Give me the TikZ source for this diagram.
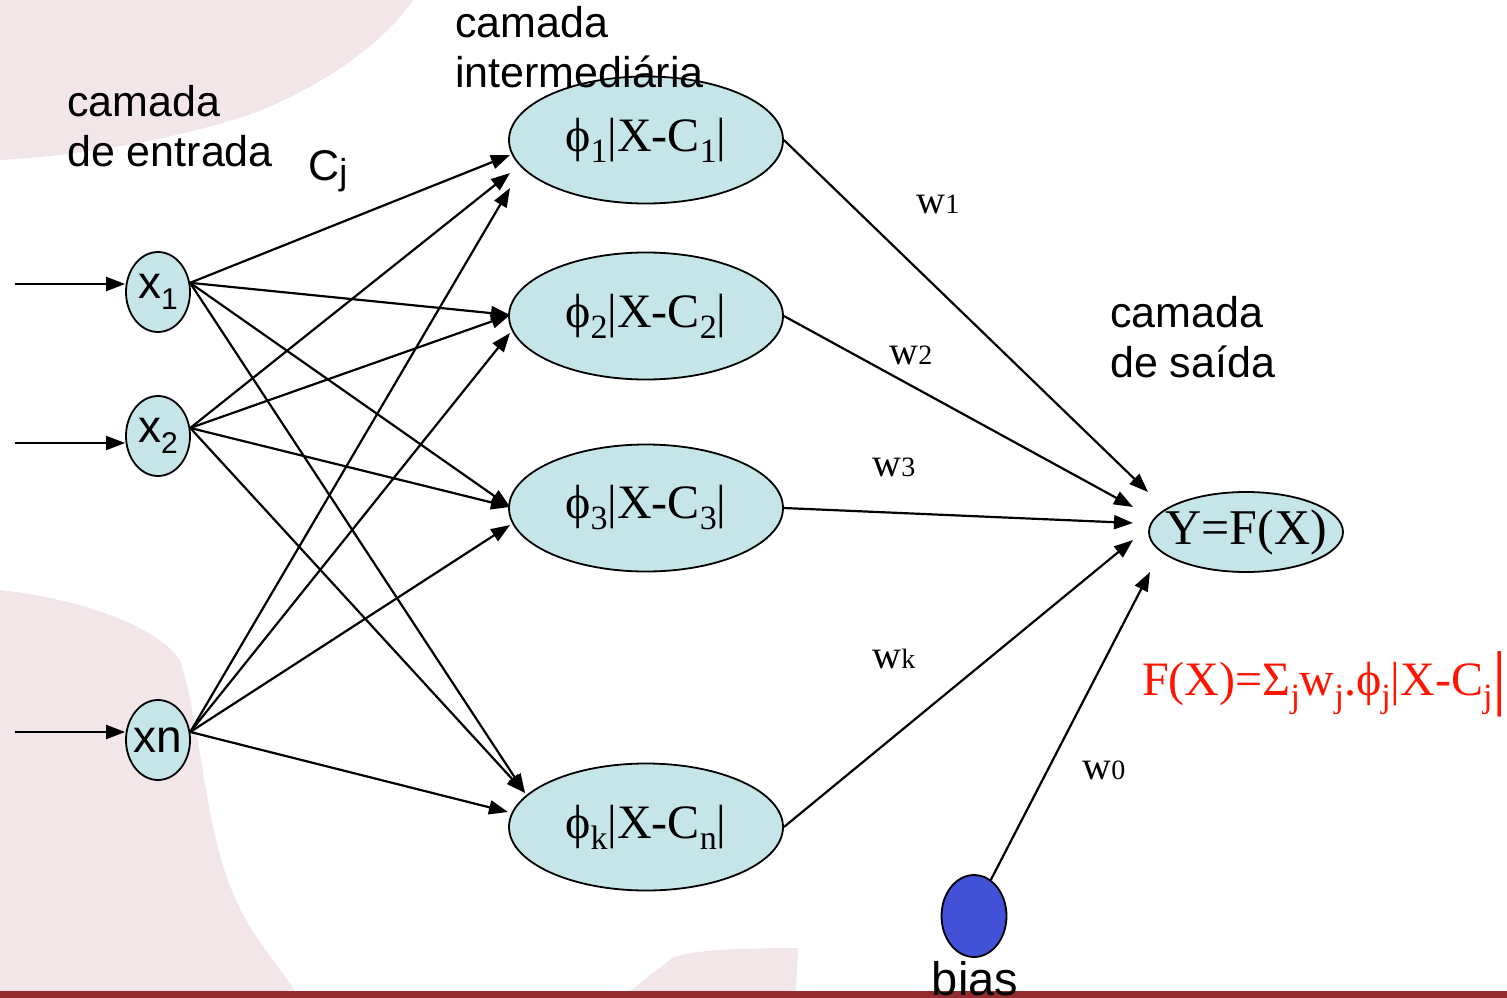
\documentclass[tikz,border=0pt]{standalone}
\usepackage{fontspec}
\setmainfont{Liberation Serif}
\newfontfamily\arialf{Liberation Sans}
\usetikzlibrary{shapes.geometric,arrows.meta}
\definecolor{nodefill}{RGB}{197,229,232}
\definecolor{pinkbg}{RGB}{243,230,233}
\definecolor{barred}{RGB}{146,44,48}
\definecolor{biasblue}{RGB}{67,80,216}
\definecolor{formred}{RGB}{255,20,0}
\newcommand\sbx[1]{\raisebox{-11pt}{\fontsize{34}{34}\selectfont #1}}
\newcommand\sbf[1]{\raisebox{-12pt}{\fontsize{34}{34}\selectfont #1}}
\newcommand\wsz[1]{{\fontsize{28}{28}\selectfont #1}}
\newcommand\zw[1]{\makebox[0pt]{#1}}
\tikzset{
  innode/.style={ellipse,draw,line width=1.8pt,fill=nodefill,minimum width=64pt,minimum height=80pt,inner sep=0pt,font=\arialf\fontsize{46}{46}\selectfont},
  hidnode/.style={ellipse,draw,line width=1.8pt,fill=nodefill,minimum width=274pt,minimum height=127pt,inner sep=0pt,font=\fontsize{48}{48}\selectfont},
  outnode/.style={ellipse,draw,line width=1.8pt,fill=nodefill,minimum width=194pt,minimum height=80pt,inner sep=0pt,font=\fontsize{50}{50}\selectfont},
  biasnode/.style={ellipse,draw,line width=1.8pt,fill=biasblue,minimum width=65pt,minimum height=82pt,inner sep=0pt},
  conn/.style={line width=2.2pt,-{Triangle[length=19pt,width=14pt]}},
  lbl/.style={anchor=base west,inner sep=0pt,font=\arialf\fontsize{43}{50}\selectfont},
  wlbl/.style={anchor=base,inner sep=0pt,font=\fontsize{40}{40}\selectfont},
}
\begin{document}
\begin{tikzpicture}[x=1pt,y=-1pt]
\useasboundingbox (0,0) rectangle (1507,998);
% background shapes
\fill[pinkbg] (0,0) -- (413,0) .. controls (380,50) and (300,100) .. (233,120)
  .. controls (150,145) and (60,157) .. (0,160) -- cycle;
\fill[pinkbg] (0,590) .. controls (90,600) and (160,630) .. (180,660)
  .. controls (200,720) and (205,830) .. (233,893)
  .. controls (250,935) and (275,960) .. (295,991) -- (0,991) -- cycle;
\fill[pinkbg] (630,991) -- (672,958) .. controls (690,950) and (740,948) .. (798,948) -- (796,991) -- cycle;
\fill[barred] (0,991) rectangle (1507,998);

% nodes
\node[innode] (x1) at (158,292) {\zw{x\raisebox{-11pt}{\fontsize{30}{30}\selectfont 1}}};
\node[innode] (x2) at (158,436) {\zw{x\raisebox{-11pt}{\fontsize{30}{30}\selectfont 2}}};
\node[innode] (xn) at (158,740) {\zw{xn}};
\node[hidnode] (h1) at (646,140) {\zw{ϕ\sbx{1}|X-C\sbx{1}|}};
\node[hidnode] (h2) at (646,316) {\zw{ϕ\sbx{2}|X-C\sbx{2}|}};
\node[hidnode] (h3) at (646,508) {\zw{ϕ\sbx{3}|X-C\sbx{3}|}};
\node[hidnode] (hk) at (646,827) {\zw{ϕ\sbx{k}|X-C\sbx{n}|}};
\node[outnode] (y) at (1246,532) {\zw{Y=F(X)}};
\node[biasnode] (bias) at (974,916) {};

% input arrows
\coordinate (i1) at (15,284);
\coordinate (i2) at (15,443);
\coordinate (i3) at (15,732);
\draw[conn] (i1) -- (x1.west |- i1);
\draw[conn] (i2) -- (x2.west |- i2);
\draw[conn] (i3) -- (xn.west |- i3);

% tip coordinates at the hidden layer
\coordinate (a1) at (510,155);
\coordinate (b1) at (510,173);
\coordinate (c1) at (510,188);
\coordinate (a2) at (510,315);
\coordinate (c2) at (510,333);
\coordinate (a3) at (510,507);
\coordinate (c3) at (510,525);
\coordinate (ak) at (525,793);
\coordinate (ck) at (508,812);

\draw[conn] (x1.16) -- (a1);
\draw[conn] (x1.16) -- (a2);
\draw[conn] (x1.16) -- (a3);
\draw[conn] (x1.16) -- (ak);
\draw[conn] (x2.14) -- (b1);
\draw[conn] (x2.14) -- (a2);
\draw[conn] (x2.14) -- (a3);
\draw[conn] (x2.14) -- (ak);
\draw[conn] (xn.14) -- (c1);
\draw[conn] (xn.14) -- (c2);
\draw[conn] (xn.14) -- (c3);
\draw[conn] (xn.14) -- (ck);

% tip coordinates at the output
\coordinate (o1) at (1148,492);
\coordinate (o2) at (1133,507);
\coordinate (o3) at (1133,523);
\coordinate (ok) at (1133,540);
\coordinate (ob) at (1150,572);
\draw[conn] (h1.east) -- (o1);
\draw[conn] (h2.east) -- (o2);
\draw[conn] (h3.east) -- (o3);
\draw[conn] (hk.east) -- (ok);
\draw[conn] (bias.65) -- (ob);

% labels
\node[lbl] (le1) at (67,116) {camada};
\node[lbl] (le2) at (67,166) {de entrada};
\node[lbl] (lm1) at (455,38) {camada};
\node[lbl] (lm2) at (455,88) {intermediária};
\node[lbl] (ls1) at (1110,327) {camada};
\node[lbl] (ls2) at (1110,377) {de saída};
\node[lbl] (cj) at (308,180) {C\raisebox{-4pt}{\fontsize{36}{36}\selectfont j}};
\node[lbl,anchor=base,font=\arialf\fontsize{47}{50}\selectfont] (bl) at (975,995) {bias};

\node[wlbl] (w1) at (938,213) {w\wsz{1}};
\node[wlbl] (w2) at (911,364) {w\wsz{2}};
\node[wlbl] (w3) at (894,476) {w\wsz{3}};
\node[wlbl] (wk) at (894,668) {w\wsz{k}};
\node[wlbl] (w0) at (1104,779) {w\wsz{0}};

\node[anchor=base west,inner sep=0pt,text=formred,font=\fontsize{48}{48}\selectfont] (fx) at (1142,695)
  {F(X)=Σ\sbf{j}w\sbf{j}.ϕ\sbf{j}|X-C\sbf{j}{\fontsize{72}{72}\selectfont\raisebox{-6pt}{|}}};
\end{tikzpicture}
\end{document}
